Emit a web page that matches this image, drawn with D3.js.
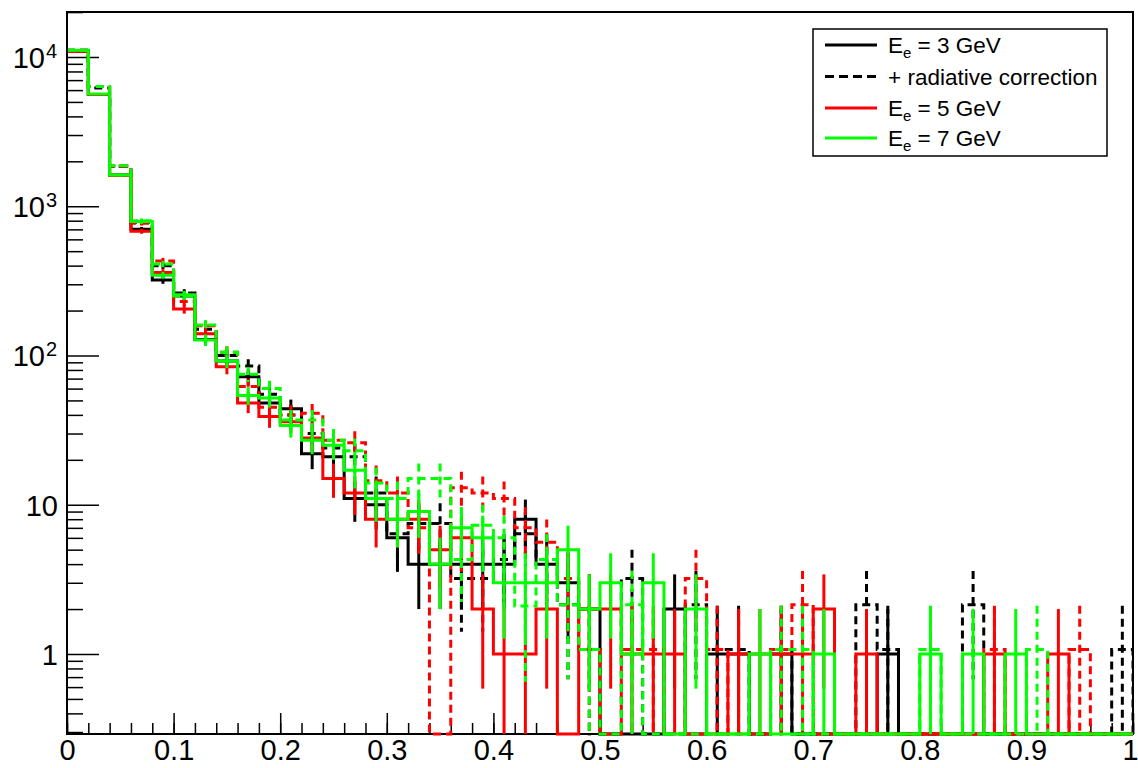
<!DOCTYPE html>
<html>
<head>
<meta charset="utf-8">
<script src="https://cdn.jsdelivr.net/npm/d3@7"></script>
<style>
  body { margin: 0; background: #fff; }
  svg { display: block; }
  text { font-family: "Liberation Sans", Arial, Helvetica, sans-serif; fill: #000; }
</style>
</head>
<body>
<svg id="chart" width="1138" height="768"></svg>
<script>
// Histogram binning: 50 bins of width 0.02 on [0, 1]
const binLow = 0;
const binHigh = 1;
const nBins = 50;

// Bin contents, E_e = 3 GeV
const e3 = [11000, 5600, 1620, 700, 320, 250, 128, 92, 72, 48,
            44, 22, 21, 11, 10, 6, 4, 4, 4, 4,
            4, 8, 4, 3, 2, 0, 0, 0, 2, 0,
            1, 1, 0, 1, 0, 0, 0, 0, 1, 0,
            0, 0, 0, 0, 0, 0, 0, 0, 0, 0];
// E_e = 3 GeV with radiative correction
const e3rad = [11100, 6200, 1850, 780, 400, 262, 150, 100, 85, 55,
               40, 30, 24, 21, 12, 6.4, 7.5, 7.5, 3.2, 3.2,
               4.3, 6.4, 4.3, 2.14, 1.07, 0, 3.2, 0, 0, 2.14,
               1.07, 1.07, 0, 1.07, 0, 0, 0, 2.14, 1.07, 0,
               0, 0, 2.14, 0, 0, 0, 0, 0, 0, 1.07];
// E_e = 5 GeV
const e5 = [10900, 5600, 1610, 680, 360, 205, 140, 84, 48, 39,
            36, 28, 15, 12, 8, 8, 8, 5, 6, 2,
            1, 1, 2, 0, 2, 2, 1, 1, 1, 0,
            0, 1, 1, 1, 1, 2, 0, 1, 0, 0,
            0, 0, 0, 1, 0, 0, 1, 0, 0, 0];
// E_e = 5 GeV with radiative correction
const e5rad = [11100, 6350, 1860, 770, 430, 230, 158, 105, 62, 45,
               40, 41, 27, 26, 14.5, 12, 7, 0, 13, 12,
               11, 7, 5.6, 3.2, 1.07, 0, 1.07, 1.07, 0, 3.2,
               1.07, 0, 0, 1.07, 2.14, 0, 0, 0, 0, 0,
               0, 0, 0, 1.07, 0, 0, 0, 1.07, 0, 0];
// E_e = 7 GeV
const e7 = [11100, 5650, 1620, 790, 345, 255, 127, 92, 54, 52,
            34, 27, 25, 17, 11, 8, 9, 4, 7, 6,
            3, 3, 3, 5, 2, 3, 1, 3, 0, 2,
            0, 0, 1, 0, 0, 1, 0, 0, 0, 0,
            1, 0, 1, 0, 1, 0, 0, 0, 0, 0];
// E_e = 7 GeV with radiative correction
const e7rad = [11100, 6350, 1870, 800, 410, 250, 160, 105, 75, 60,
               37, 37, 27, 23, 14, 11, 15, 15, 4.3, 7.3,
               6, 2.1, 4.3, 2.14, 1.07, 0, 2.14, 0, 0, 0,
               0, 0, 0, 1.07, 1.07, 0, 0, 0, 0, 0,
               1.07, 0, 0, 0, 0, 1.07, 0, 0, 0, 0];

const xTickValues = [0, 0.1, 0.2, 0.3, 0.4, 0.5, 0.6, 0.7, 0.8, 0.9, 1];
const xTickLabels = ["0", "0.1", "0.2", "0.3", "0.4", "0.5", "0.6", "0.7", "0.8", "0.9", "1"];
const yTickValues = [1, 10, 100, 1000, 10000];
const yTickBases = ["1", "10", "10", "10", "10"];
const yTickExponents = ["", "", "2", "3", "4"];

const legendLabels = ["3 GeV", "+ radiative correction", "5 GeV", "7 GeV"];
const legendHasSubscript = [true, false, true, true];
const legendColors = ["#000000", "#000000", "#ff0000", "#00ff00"];
const legendDashed = [false, true, false, false];

// Series drawn in order; later ones sit on top
const series = [
  { values: e3,    color: "#000000", dashed: false },
  { values: e3rad, color: "#000000", dashed: true },
  { values: e5,    color: "#ff0000", dashed: false },
  { values: e5rad, color: "#ff0000", dashed: true },
  { values: e7,    color: "#00ff00", dashed: false },
  { values: e7rad, color: "#00ff00", dashed: true }
];

const svg = d3.select("#chart");
const margin = { left: 67, top: 12, right: 5, bottom: 34 };
const W = 1138 - margin.left - margin.right;
const H = 768 - margin.top - margin.bottom;
const dash = "8,5";
const lineW = 3;

const x = d3.scaleLinear().domain([binLow, binHigh]).range([0, W]);
const y = d3.scaleLog().domain([0.291, 20020]).range([H, 0]);
const binW = (binHigh - binLow) / nBins;
const yOf = v => (v > 0 ? y(v) : H);

const g = svg.append("g").attr("transform", `translate(${margin.left},${margin.top})`);

g.append("clipPath").attr("id", "plotClip")
  .append("rect").attr("x", 1).attr("y", -1).attr("width", W).attr("height", H + 3);

// Axes: ticks point into the frame
const xMajor = d3.axisBottom(x).tickValues(xTickValues)
  .tickFormat((d, i) => xTickLabels[i]).tickSize(-21).tickPadding(5);
const xMinor = d3.axisBottom(x)
  .tickValues(d3.range(nBins + 1).map(i => binLow + i * binW))
  .tickFormat("").tickSize(-11);

const gxMinor = g.append("g").attr("transform", `translate(0,${H})`).call(xMinor);
const gx = g.append("g").attr("transform", `translate(0,${H})`).call(xMajor);
[gx, gxMinor].forEach(a => {
  a.select(".domain").remove();
  a.selectAll("line").attr("stroke", "#000").attr("stroke-width", 1.5);
});
gx.selectAll("text").attr("font-size", 29).attr("fill", "#000")
  .attr("font-family", "'Liberation Sans', Arial, sans-serif");
// keep the last label inside the page edge
gx.selectAll("text").filter(d => d === binHigh).attr("dx", -3);

const yMinorVals = [];
for (let e = -1; e <= 4; e++) {
  for (let m = 2; m <= 9; m++) {
    const v = m * Math.pow(10, e);
    if (v >= y.domain()[0] && v <= y.domain()[1]) yMinorVals.push(v);
  }
}
const yMajor = d3.axisLeft(y).tickValues(yTickValues).tickFormat("").tickSize(-32);
const yMinor = d3.axisLeft(y).tickValues(yMinorVals).tickFormat("").tickSize(-16);
const gy = g.append("g").call(yMajor);
const gyMinor = g.append("g").call(yMinor);
[gy, gyMinor].forEach(a => {
  a.select(".domain").remove();
  a.selectAll("line").attr("stroke", "#000").attr("stroke-width", 1.5);
});

// Y tick labels with powers of ten
yTickValues.forEach((v, i) => {
  g.append("text")
    .attr("x", yTickExponents[i] ? -22 : -9)
    .attr("y", y(v) + 11)
    .attr("text-anchor", "end")
    .attr("font-size", 29)
    .text(yTickBases[i]);
  if (yTickExponents[i]) {
    g.append("text")
      .attr("x", -21)
      .attr("y", y(v) + 1)
      .attr("font-size", 20)
      .text(yTickExponents[i]);
  }
});

// Frame
g.append("rect").attr("x", 0).attr("y", 0).attr("width", W).attr("height", H)
  .attr("fill", "none").attr("stroke", "#000").attr("stroke-width", 2);

// Histograms: step outline plus sqrt(N) error bars at bin centres
const plot = g.append("g").attr("clip-path", "url(#plotClip)");

series.forEach(s => {
  const pts = [];
  s.values.forEach((v, i) => {
    const x0 = x(binLow + i * binW), x1 = x(binLow + (i + 1) * binW);
    pts.push([x0, yOf(v)], [x1, yOf(v)]);
  });
  pts.push([x(binHigh), H]);

  const grp = plot.append("g");
  grp.append("path")
    .attr("d", d3.line()(pts))
    .attr("fill", "none")
    .attr("stroke", s.color)
    .attr("stroke-width", lineW)
    .attr("stroke-linejoin", "miter")
    .attr("stroke-dasharray", s.dashed ? dash : null);

  grp.selectAll("line.err")
    .data(s.values.map((v, i) => ({ v, i })).filter(d => d.v > 0))
    .join("line")
    .attr("class", "err")
    .attr("x1", d => x(binLow + (d.i + 0.5) * binW))
    .attr("x2", d => x(binLow + (d.i + 0.5) * binW))
    .attr("y1", d => yOf(d.v + Math.sqrt(d.v)))
    .attr("y2", d => yOf(d.v - Math.sqrt(d.v)))
    .attr("stroke", s.color)
    .attr("stroke-width", lineW)
    .attr("stroke-dasharray", s.dashed ? dash : null);
});

// Legend
const lg = svg.append("g");
lg.append("rect").attr("x", 813).attr("y", 29).attr("width", 294).attr("height", 127)
  .attr("fill", "#fff").attr("stroke", "#000").attr("stroke-width", 1.5);
const rowY = [45, 76.5, 108, 138];
legendLabels.forEach((lab, i) => {
  lg.append("line")
    .attr("x1", 825).attr("x2", 877).attr("y1", rowY[i]).attr("y2", rowY[i])
    .attr("stroke", legendColors[i]).attr("stroke-width", lineW)
    .attr("stroke-dasharray", legendDashed[i] ? "9,5" : null);
  const t = lg.append("text").attr("x", 888).attr("y", rowY[i] + 8).attr("font-size", 22.5);
  if (legendHasSubscript[i]) {
    t.append("tspan").text("E");
    t.append("tspan").attr("font-size", 15).attr("dy", 5).text("e");
    t.append("tspan").attr("dy", -5).text(" = " + lab);
  } else {
    t.text(lab);
  }
});
</script>
</body>
</html>
